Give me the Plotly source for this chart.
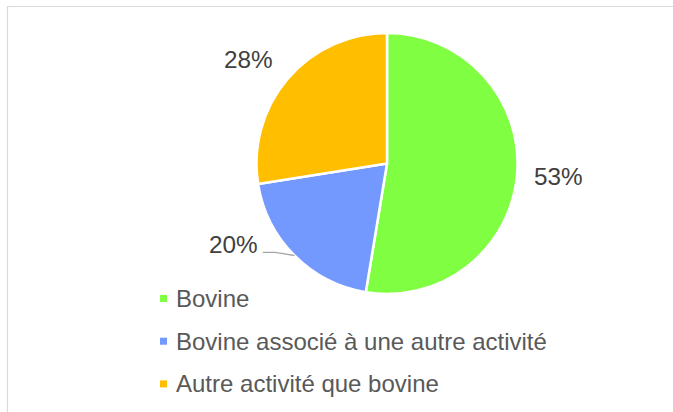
import math
import plotly.graph_objects as go

# ---- data ----
categories = ["Bovine", "Bovine associé à une autre activité", "Autre activité que bovine"]
values = [52.6, 19.9, 27.5]
colors = ["#80FF42", "#7399FF", "#FFBF00"]

W, H = 673, 412
CX, CY, R = 387.0, 163.5, 130.5   # pie centre / radius in pixels
# data-label positions (pixels) as laid out in the reference
label_pos = [(558.3, 176.3), (233.7, 244.5), (248.3, 60.0)]


def px(x):
    return x / W


def py(y):
    return 1 - y / H


fig = go.Figure()
fig.add_trace(go.Pie(
    labels=categories, values=values, sort=False, direction="clockwise", rotation=0,
    marker=dict(colors=colors, line=dict(color="white", width=2.5)),
    textinfo="none", hoverinfo="label+percent", showlegend=False,
    domain=dict(x=[px(CX - R), px(CX + R)], y=[py(CY + R), py(CY - R)]),
))

annotations = []
shapes = []

total = sum(values)
cum = 0.0
for i, v in enumerate(values):
    mid = (cum + v / 2) / total * 2 * math.pi
    cum += v
    dx, dy = math.sin(mid), -math.cos(mid)
    txt = f"{round(v / total * 100)}%"
    lx, ly = label_pos[i]
    if i == 1:
        # leader line from the slice's mid-angle on the rim to the label
        ex, ey = CX + R * dx, CY + R * dy
        path = (f"M {px(ex)} {py(ey)} L {px(lx + 41.3)} {py(ly + 7.8)} L {px(lx + 29)} {py(ly + 7.8)}")
        shapes.append(dict(type="path", xref="paper", yref="paper", path=path,
                           line=dict(color="#A6A6A6", width=1.3)))
    annotations.append(dict(x=px(lx), y=py(ly), xref="paper", yref="paper", text=txt,
                            showarrow=False, xanchor="center", yanchor="middle",
                            font=dict(family="Liberation Sans, Arial", size=24.3, color="#404040")))

# custom legend
leg_y0, leg_dy = 298.5, 42.7
for i, (c, col) in enumerate(zip(categories, colors)):
    yy = leg_y0 + i * leg_dy
    shapes.append(dict(type="rect", xref="paper", yref="paper",
                       x0=px(160), x1=px(167), y0=py(yy + 3.5), y1=py(yy - 3.5),
                       fillcolor=col, line=dict(width=0)))
    annotations.append(dict(x=px(174), y=py(yy), xref="paper", yref="paper", text=c,
                            showarrow=False, xanchor="left", yanchor="middle",
                            font=dict(family="Liberation Sans, Arial", size=24, color="#595959")))

# chart-area border (top and left visible)
shapes.append(dict(type="line", xref="paper", yref="paper", x0=px(7), x1=1, y0=py(6.5), y1=py(6.5),
                   line=dict(color="#D9D9D9", width=1.2)))
shapes.append(dict(type="line", xref="paper", yref="paper", x0=px(7.5), x1=px(7.5), y0=py(6), y1=0,
                   line=dict(color="#D9D9D9", width=1.2)))

fig.update_layout(
    width=W, height=H, margin=dict(l=0, r=0, t=0, b=0),
    paper_bgcolor="white", plot_bgcolor="white",
    annotations=annotations, shapes=shapes,
)

fig.write_html("out.html", config={"displayModeBar": False},
               post_script="document.body.style.margin='0';document.body.style.overflow='hidden';")
